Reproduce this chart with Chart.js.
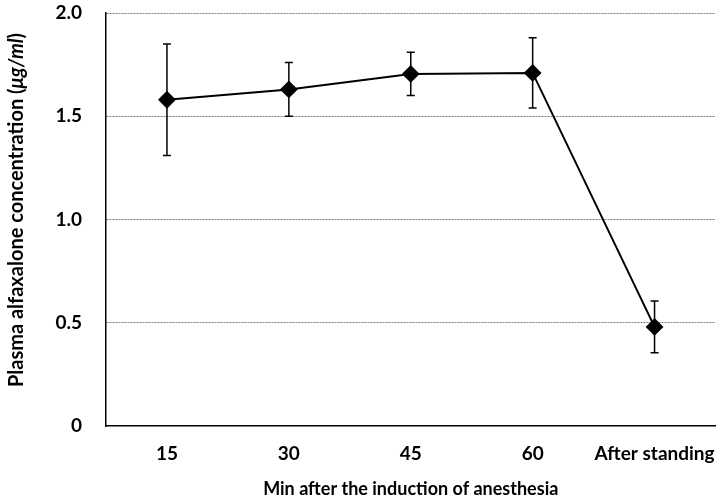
<!DOCTYPE html>
<html>
<head>
<meta charset="utf-8">
<script src="https://cdn.jsdelivr.net/npm/chart.js@4"></script>
<style>
  html, body { margin: 0; padding: 0; background: #fff; }
  #wrap { width: 725px; height: 502px; }
</style>
</head>
<body>
<div id="wrap"><canvas id="chart"></canvas></div>
<script>
const categories = ['15', '30', '45', '60', 'After standing'];
const meanValues = [1.58, 1.63, 1.705, 1.71, 0.48];
const sdValues = [0.27, 0.13, 0.105, 0.17, 0.125];
const yTicks = [0, 0.5, 1.0, 1.5, 2.0];

const FONT = 'Lato, "Open Sans", sans-serif';

// error bars drawn under the markers
const errorBars = {
    id: 'errorBars',
    beforeDatasetsDraw(chart) {
        const ctx = chart.ctx;
        const y = chart.scales.y;
        const meta = chart.getDatasetMeta(0);
        ctx.save();
        ctx.strokeStyle = '#000';
        ctx.lineWidth = 1.5;
        meta.data.forEach((pt, i) => {
            const top = y.getPixelForValue(meanValues[i] + sdValues[i]);
            const bot = y.getPixelForValue(meanValues[i] - sdValues[i]);
            ctx.beginPath();
            ctx.moveTo(pt.x, top);
            ctx.lineTo(pt.x, bot);
            ctx.moveTo(pt.x - 4, top);
            ctx.lineTo(pt.x + 4, top);
            ctx.moveTo(pt.x - 4, bot);
            ctx.lineTo(pt.x + 4, bot);
            ctx.stroke();
        });
        ctx.restore();
    }
};

// y title with the unit in italics
const yTitle = {
    id: 'yTitle',
    afterDraw(chart) {
        const ctx = chart.ctx;
        const parts = [
            ['Plasma alfaxalone concentration (', 'bold 20px ' + FONT],
            ['μg/ml', 'italic bold 20px ' + FONT],
            [')', 'bold 20px ' + FONT]
        ];
        ctx.save();
        let total = 0;
        parts.forEach(p => { ctx.font = p[1]; total += ctx.measureText(p[0]).width; });
        ctx.translate(17, 210);
        ctx.rotate(-Math.PI / 2);
        ctx.fillStyle = '#000';
        ctx.textBaseline = 'middle';
        ctx.textAlign = 'left';
        let x = -total / 2;
        parts.forEach(p => {
            ctx.font = p[1];
            ctx.fillText(p[0], x, 0);
            x += ctx.measureText(p[0]).width;
        });
        ctx.restore();
    }
};

new Chart(document.getElementById('chart'), {
    type: 'line',
    data: {
        labels: categories,
        datasets: [
            {
                data: meanValues,
                borderColor: '#000',
                borderWidth: 2,
                backgroundColor: '#000',
                pointStyle: 'rectRot',
                pointRadius: 7.5,
                pointHoverRadius: 7.5,
                pointBackgroundColor: '#000',
                pointBorderColor: '#000',
                tension: 0
            }
        ]
    },
    options: {
        responsive: true,
        maintainAspectRatio: false,
        animation: false,
        layout: {
            padding: { top: 13, right: 6, left: 0, bottom: 0 }
        },
        plugins: {
            legend: { display: false },
            tooltip: { enabled: false }
        },
        scales: {
            x: {
                offset: true,
                grid: { display: false },
                border: { display: true, color: '#000', width: 1.5 },
                ticks: {
                    color: '#000',
                    font: { family: FONT, size: 19, weight: 'bold' },
                    padding: 8,
                    maxRotation: 0,
                    autoSkip: false
                },
                title: {
                    display: true,
                    text: 'Min after the induction of anesthesia',
                    color: '#000',
                    font: { family: FONT, size: 18, weight: 'bold' },
                    padding: { top: 8, bottom: 2 }
                },
                afterFit(scale) {
                    scale.height = 76;
                    scale.paddingLeft = 0;
                    scale.paddingRight = 0;
                }
            },
            y: {
                min: 0,
                max: 2.0,
                afterBuildTicks(scale) {
                    scale.ticks = yTicks.map(v => ({ value: v }));
                },
                grid: {
                    drawTicks: false,
                    color: ctx => ctx.tick && ctx.tick.value === 0 ? 'transparent' : '#7a7a7a',
                    lineWidth: 1
                },
                border: { display: true, color: '#000', width: 1.5, dash: [2, 1] },
                ticks: {
                    color: '#000',
                    font: { family: FONT, size: 19, weight: 'bold' },
                    padding: 24,
                    callback: v => v === 0 ? '0' : v.toFixed(1)
                },
                title: { display: false },
                afterFit(scale) {
                    scale.width = 106;
                    scale.paddingTop = 0;
                    scale.paddingBottom = 0;
                }
            }
        }
    },
    plugins: [errorBars, yTitle]
});
</script>
</body>
</html>
